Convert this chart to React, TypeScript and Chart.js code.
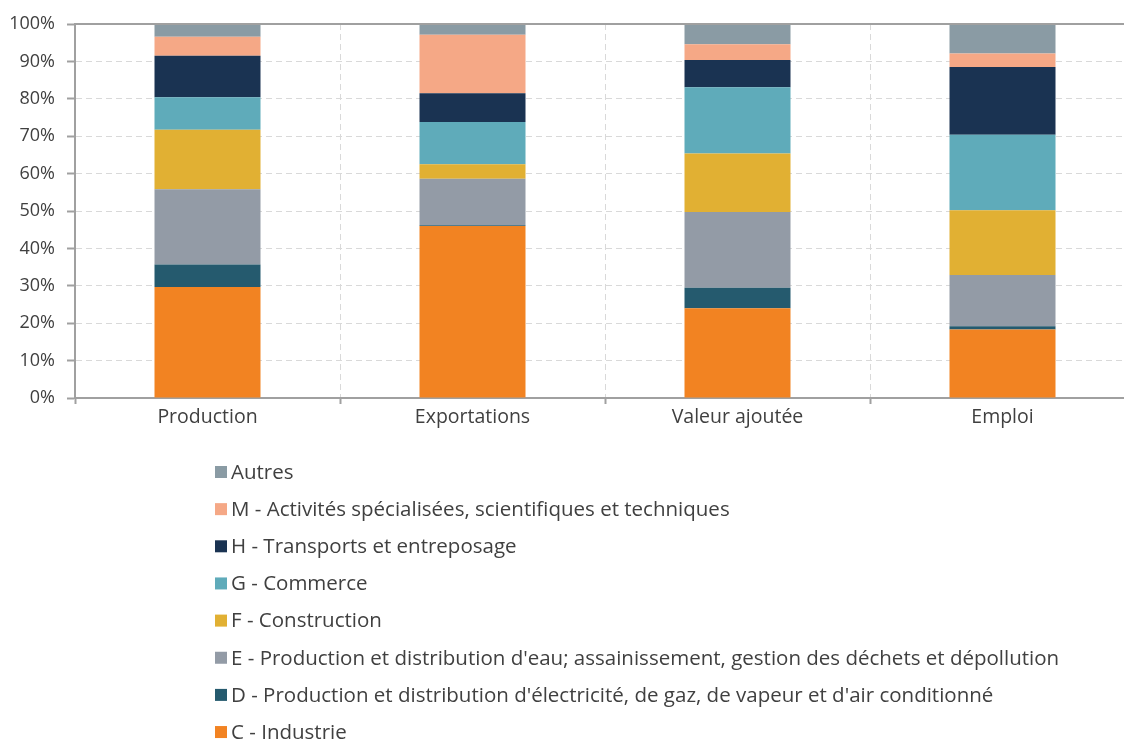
import React, { useEffect, useRef } from "react";
import { Chart, registerables } from "chart.js";

Chart.register(...registerables);

const categories = ["Production", "Exportations", "Valeur ajoutée", "Emploi"];

const industrie = [29.7, 46.0, 24.0, 18.3];
const electricite = [6.0, 0.2, 5.5, 0.9];
const eau = [20.1, 12.4, 20.2, 13.7];
const construction = [15.9, 3.9, 15.7, 17.3];
const commerce = [8.7, 11.3, 17.7, 20.2];
const transports = [11.1, 7.7, 7.3, 18.1];
const activites = [5.1, 15.6, 4.2, 3.6];
const autres = [3.4, 2.9, 5.4, 7.9];

const seriesLabels = [
  "C - Industrie",
  "D - Production et distribution d'électricité, de gaz, de vapeur et d'air conditionné",
  "E - Production et distribution d'eau; assainissement, gestion des déchets et dépollution",
  "F - Construction",
  "G - Commerce",
  "H - Transports et entreposage",
  "M - Activités spécialisées, scientifiques et techniques",
  "Autres",
];

const yTicks = [0, 10, 20, 30, 40, 50, 60, 70, 80, 90, 100];

const colors = [
  "#F28322",
  "#255A6E",
  "#939BA6",
  "#E1B033",
  "#5FABBA",
  "#1A3352",
  "#F5A886",
  "#8A9BA4",
];

const FONT = "'Open Sans', sans-serif";
const TEXT = "#404040";
const AXIS = "#a0a0a0";
const GRID = "#d9d9d9";

const legendPlugin = {
  id: "customLegend",
  afterDraw(chart: any) {
    const ctx = chart.ctx;
    const area = chart.chartArea;
    ctx.save();
    // top solid line at 100%
    ctx.strokeStyle = AXIS;
    ctx.lineWidth = 2;
    ctx.beginPath();
    ctx.moveTo(area.left - 1, area.top);
    ctx.lineTo(area.right, area.top);
    ctx.stroke();

    const ds = chart.data.datasets.slice().reverse();
    ctx.font = `20.5px ${FONT}`;
    ctx.textBaseline = "middle";
    ctx.textAlign = "left";
    ds.forEach((d: any, i: number) => {
      const cy = 472 + i * 37.15;
      ctx.fillStyle = d.backgroundColor;
      ctx.fillRect(215, cy - 6, 12, 12);
      ctx.fillStyle = TEXT;
      ctx.fillText(d.label, 231, cy + 1);
    });
    ctx.restore();
  },
};

export default function App() {
  const ref = useRef<HTMLCanvasElement | null>(null);

  useEffect(() => {
    if (!ref.current) return;
    const series = [industrie, electricite, eau, construction, commerce, transports, activites, autres];
    const chart = new Chart(ref.current, {
      type: "bar",
      data: {
        labels: categories,
        datasets: series.map((s, i) => ({
          label: seriesLabels[i],
          data: s,
          backgroundColor: colors[i],
          borderWidth: 0,
          categoryPercentage: 1,
          barPercentage: 0.4,
        })),
      },
      options: {
        animation: false,
        responsive: false,
        devicePixelRatio: 1,
        layout: { padding: { left: 0, top: 24, right: 5, bottom: 302 } },
        plugins: {
          legend: { display: false },
          tooltip: { enabled: false },
        },
        scales: {
          x: {
            stacked: true,
            afterFit: (s: any) => {
              s.height = 40;
            },
            grid: {
              offset: true,
              color: GRID,
              lineWidth: 1,
              tickLength: 6,
              tickColor: AXIS,
              tickWidth: 2,
              tickBorderDash: [],
            },
            border: { color: AXIS, width: 2, dash: [6, 4] },
            ticks: {
              padding: 2,
              color: TEXT,
              font: { family: FONT, size: 19.5 },
            },
          },
          y: {
            stacked: true,
            min: 0,
            max: 100,
            afterFit: (s: any) => {
              s.width = 75;
            },
            afterBuildTicks: (s: any) => {
              s.ticks = yTicks.map((v) => ({ value: v }));
            },
            grid: {
              color: GRID,
              lineWidth: 1,
              tickLength: 8,
              tickColor: AXIS,
              tickWidth: 2,
              tickBorderDash: [],
            },
            border: { color: AXIS, width: 2, dash: [6, 4] },
            ticks: {
              padding: 12,
              color: TEXT,
              font: { family: FONT, size: 18 },
              callback: (v: any) => `${v}%`,
            },
          },
        },
      },
      plugins: [legendPlugin],
    });
    return () => chart.destroy();
  }, []);

  return (
    <div
      style={{
        position: "fixed",
        left: 0,
        top: 0,
        width: 1124,
        height: 740,
        overflow: "hidden",
        background: "#fff",
      }}
    >
      <canvas ref={ref} width={1140} height={740} style={{ display: "block" }} />
    </div>
  );
}
